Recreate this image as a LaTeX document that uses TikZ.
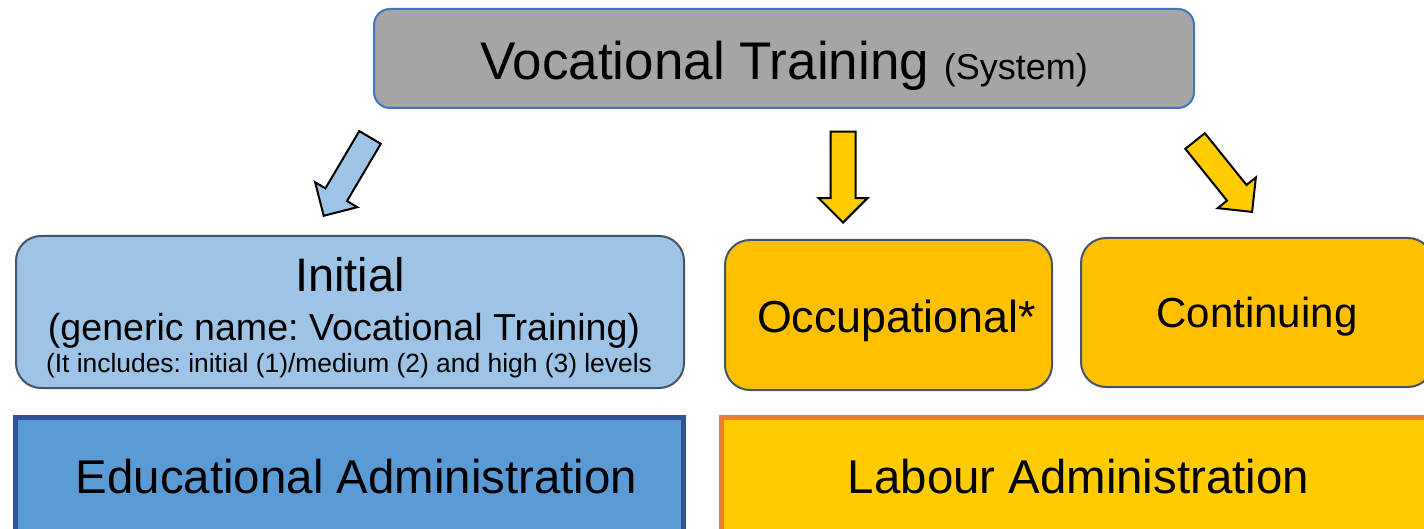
\documentclass[tikz,border=0pt]{standalone}
\usepackage{fontspec}
\setmainfont{Liberation Sans}
\usepackage{xcolor}
\definecolor{ColGrey}{RGB}{165,165,165}
\definecolor{ColLine}{RGB}{68,114,196}
\definecolor{ColSky}{RGB}{157,195,230}
\definecolor{ColSlate}{RGB}{68,84,106}
\definecolor{ColAmber}{RGB}{255,192,0}
\definecolor{ColYellow}{RGB}{255,204,0}
\definecolor{ColBlue}{RGB}{91,155,213}
\definecolor{ColNavy}{RGB}{47,85,151}
\definecolor{ColOrange}{RGB}{237,125,49}
\usepackage{tikz}
\usetikzlibrary{shapes}
\usetikzlibrary{shapes.arrows}
\frenchspacing
\tikzstyle{Box}=[rectangle,rounded corners=12.5pt,draw=ColSlate,line width=1pt,
inner sep=0pt]
\tikzstyle{Admin}=[rectangle,line width=2.5pt,inner sep=0pt,minimum height=59.75pt]
\tikzstyle{Arrow}=[single arrow,draw=black,line width=1pt,inner xsep=0pt,
inner ysep=5.75pt,minimum height=45.5pt,single arrow head extend=6pt,
single arrow tip angle=90,anchor=tip]
\tikzstyle{NodeTxt}=[anchor=base,inner sep=0pt]

\begin{document}
\begin{tikzpicture}[x=0.5pt,y=-0.5pt]
        \useasboundingbox(0,0)rectangle(1424,529);
        \clip(0,0)rectangle(1424,529);
        \node[Box,rounded corners=8pt,draw=ColLine,fill=ColGrey,
            minimum width=410pt,minimum height=49.5pt](sys)at(784,58.5){};
        \node[Box,fill=ColSky,minimum width=334pt,minimum height=76pt]
            (ini)at(350,312){};
        \node[Box,fill=ColAmber,minimum width=163.5pt,minimum height=75pt]
            (occ)at(888.5,315){};
        \node[Box,fill=ColAmber,minimum width=176pt,minimum height=74.5pt]
            (cont)at(1257,312.5){};
        \node[Admin,draw=ColNavy,fill=ColBlue,minimum width=334pt]
            (edu)at(349.5,477.25){};
        \node[Admin,draw=ColOrange,fill=ColYellow,minimum width=357.25pt]
            (lab)at(1078.75,477.25){};
        \node[Arrow,fill=ColSky,rotate=239.4](arrI)at(323,217){};
        \node[Arrow,fill=ColYellow,rotate=-90](arrO)at(843,224){};
        \node[Arrow,fill=ColYellow,rotate=-51.2](arrC)at(1253,213){};
        \node[NodeTxt,font=\fontsize{26.5pt}{30pt}\selectfont](sysT)at(784,80)
            {Vocational Training {\fontsize{18pt}{20pt}\selectfont(System)}};
        \node[NodeTxt,font=\fontsize{23.5pt}{28pt}\selectfont](iniT)
            at(350,292){Initial};
        \node[NodeTxt,font=\fontsize{18.8pt}{22pt}\selectfont](iniG)
            at(344,340){(generic name: Vocational Training)};
        \node[NodeTxt,font=\fontsize{13.2pt}{16pt}\selectfont](iniL)
            at(349,372){(It includes: initial (1)/medium (2) and high (3) levels};
        \node[NodeTxt,font=\fontsize{22.4pt}{26pt}\selectfont](occT)
            at(896.5,332){Occupational*};
        \node[NodeTxt,font=\fontsize{21pt}{25pt}\selectfont](contT)
            at(1257,328){Continuing};
        \node[NodeTxt,font=\fontsize{23.7pt}{28pt}\selectfont](eduT)
            at(356.5,493){Educational Administration};
        \node[NodeTxt,font=\fontsize{23.7pt}{28pt}\selectfont](labT)
            at(1078.5,493){Labour Administration};
    \end{tikzpicture}
\end{document}
